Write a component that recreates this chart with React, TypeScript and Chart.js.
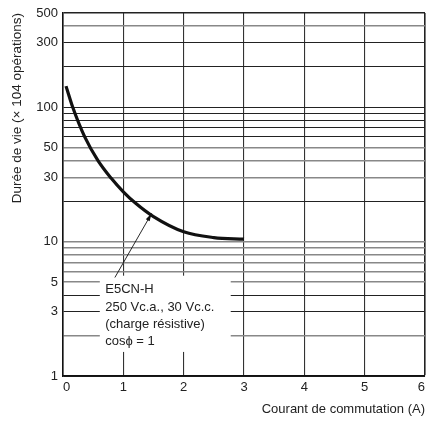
import React, { useEffect, useRef } from "react";
import { Chart, registerables } from "chart.js";

Chart.register(...registerables);

const currentA = [0.05, 0.16, 0.36, 0.58, 0.8, 1.0, 1.2, 1.5, 2.0, 2.5, 3.0];
const lifeOps = [143, 100, 60, 40, 29.5, 23.4, 19.3, 15.3, 11.8, 10.7, 10.4];

const yGridValues = [1, 2, 3, 4, 5, 6, 7, 8, 9, 10, 20, 30, 40, 50, 60, 70, 80, 90, 100, 200, 300, 400, 500];
const yTickLabels = [1, 3, 5, 10, 30, 50, 100, 300, 500];
const yGrayLines = [2, 5, 6, 7, 8, 9, 10, 30, 40, 50, 400];
const xTickValues = [0, 1, 2, 3, 4, 5, 6];

const noteLines = ["E5CN-H", "250 Vc.a., 30 Vc.c.", "(charge résistive)", "cosϕ = 1"];
// annotation anchors in data units
const noteBox = { x0: 0.61, x1: 2.78, yTop: 5.57, yBottom: 1.51 };
const noteTextX = 0.7;
const noteTextY = [4.38, 3.24, 2.4, 1.8];
const arrowFrom = { x: 0.86, y: 5.4 };
const arrowTo = { x: 1.47, y: 16.2 };

const FONT = '"Liberation Sans", Arial, sans-serif';
const TEXT = "#222";

export default function App() {
  const ref = useRef<HTMLCanvasElement | null>(null);

  useEffect(() => {
    if (!ref.current) return;
    const notePlugin = {
      id: "note",
      beforeDatasetsDraw(chart: any) {
        const { ctx, scales } = chart;
        const xs = scales.x;
        const ys = scales.y;
        ctx.save();
        const bx0 = xs.getPixelForValue(noteBox.x0);
        const bx1 = xs.getPixelForValue(noteBox.x1);
        const by0 = ys.getPixelForValue(noteBox.yTop);
        const by1 = ys.getPixelForValue(noteBox.yBottom);
        ctx.fillStyle = "#fff";
        ctx.fillRect(bx0, by0, bx1 - bx0, by1 - by0);
        ctx.fillStyle = TEXT;
        ctx.font = `13px ${FONT}`;
        ctx.textBaseline = "middle";
        ctx.textAlign = "left";
        noteLines.forEach((t, i) => {
          ctx.fillText(t, xs.getPixelForValue(noteTextX), ys.getPixelForValue(noteTextY[i]));
        });
        // arrow
        const ax0 = xs.getPixelForValue(arrowFrom.x);
        const ay0 = ys.getPixelForValue(arrowFrom.y);
        const ax1 = xs.getPixelForValue(arrowTo.x);
        const ay1 = ys.getPixelForValue(arrowTo.y);
        ctx.strokeStyle = "#111";
        ctx.lineWidth = 0.9;
        ctx.beginPath();
        ctx.moveTo(ax0, ay0);
        ctx.lineTo(ax1, ay1);
        ctx.stroke();
        const ang = Math.atan2(ay1 - ay0, ax1 - ax0);
        const L = 8;
        const W = 2.2;
        ctx.fillStyle = "#111";
        ctx.beginPath();
        ctx.moveTo(ax1, ay1);
        ctx.lineTo(ax1 - L * Math.cos(ang) + W * Math.sin(ang), ay1 - L * Math.sin(ang) - W * Math.cos(ang));
        ctx.lineTo(ax1 - L * Math.cos(ang) - W * Math.sin(ang), ay1 - L * Math.sin(ang) + W * Math.cos(ang));
        ctx.closePath();
        ctx.fill();
        ctx.restore();
      },
    };

    const chart = new Chart(ref.current, {
      type: "line",
      data: {
        datasets: [
          {
            data: currentA.map((x, i) => ({ x, y: lifeOps[i] })),
            borderColor: "#111",
            borderWidth: 3.2,
            pointRadius: 0,
            cubicInterpolationMode: "monotone",
            fill: false,
          },
        ],
      },
      options: {
        responsive: false,
        animation: false,
        devicePixelRatio: 1,
        layout: { padding: { top: 13, right: 2, left: 0, bottom: 0 } },
        plugins: { legend: { display: false }, tooltip: { enabled: false } },
        scales: {
          x: {
            type: "linear",
            min: 0,
            max: 6,
            afterFit: (s: any) => {
              s.height = 45;
              s.paddingRight = 0;
              s.paddingLeft = 0;
            },
            afterBuildTicks: (s: any) => {
              s.ticks = xTickValues.map((v) => ({ value: v }));
            },
            ticks: {
              color: TEXT,
              font: { family: FONT, size: 13 },
              padding: 4,
              maxRotation: 0,
              align: "inner",
            },
            grid: {
              drawTicks: false,
              color: (c: any) => (c.tick && c.tick.value === 6 ? "#222" : "#333"),
              lineWidth: (c: any) => (c.tick && c.tick.value === 6 ? 1.6 : 1.1),
            },
            border: { color: "#111", width: 1.6 },
            title: {
              display: true,
              text: "Courant de commutation (A)",
              align: "end",
              color: TEXT,
              font: { family: FONT, size: 13 },
              padding: { top: 0, bottom: 4 },
            },
          },
          y: {
            type: "logarithmic",
            min: 1,
            max: 500,
            afterFit: (s: any) => {
              s.width = 63;
            },
            afterBuildTicks: (s: any) => {
              s.ticks = yGridValues.map((v) => ({ value: v }));
            },
            ticks: {
              color: TEXT,
              font: { family: FONT, size: 13 },
              padding: 5,
              autoSkip: false,
              callback: (v: any) => (yTickLabels.includes(Number(v)) ? String(v) : ""),
            },
            grid: {
              drawTicks: false,
              color: (c: any) => {
                const v = c.tick ? c.tick.value : 0;
                if (v === 500) return "#222";
                return yGrayLines.includes(v) ? "#888" : "#222";
              },
              lineWidth: (c: any) => {
                const v = c.tick ? c.tick.value : 0;
                if (v === 500) return 1.6;
                return yGrayLines.includes(v) ? 1.4 : 1;
              },
            },
            border: { color: "#111", width: 1.6 },
            title: {
              display: true,
              text: "Durée de vie (× 104 opérations)",
              align: "end",
              color: TEXT,
              font: { family: FONT, size: 13.5 },
              padding: { top: 9, bottom: 0 },
            },
          },
        },
      },
      plugins: [notePlugin],
    } as any);
    return () => chart.destroy();
  }, []);

  return (
    <div style={{ position: "absolute", left: 0, top: 0, width: 427, height: 421, background: "#fff" }}>
      <canvas ref={ref} width={427} height={421} style={{ width: 427, height: 421 }} />
    </div>
  );
}
